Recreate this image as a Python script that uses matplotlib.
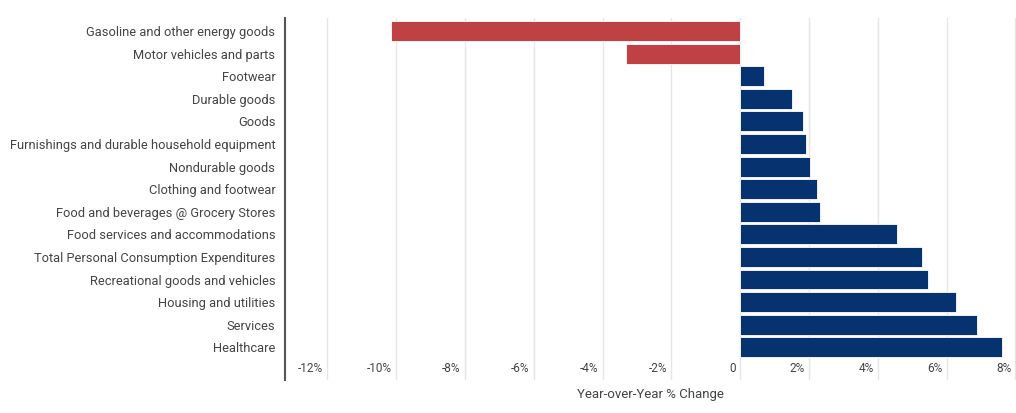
import matplotlib
matplotlib.use("Agg")
import matplotlib.pyplot as plt
import matplotlib.transforms as mtransforms

# categories, top to bottom
categories = [
    "Gasoline and other energy goods",
    "Motor vehicles and parts",
    "Footwear",
    "Durable goods",
    "Goods",
    "Furnishings and durable household equipment",
    "Nondurable goods",
    "Clothing and footwear",
    "Food and beverages @ Grocery Stores",
    "Food services and accommodations",
    "Total Personal Consumption Expenditures",
    "Recreational goods and vehicles",
    "Housing and utilities",
    "Services",
    "Healthcare",
]
yoy_change = [-10.15, -3.31, 0.70, 1.51, 1.83, 1.92, 2.03, 2.24, 2.33,
              4.56, 5.28, 5.47, 6.28, 6.89, 7.60]
tick_values = [-12, -10, -8, -6, -4, -2, 0, 2, 4, 6, 8]
tick_labels = ["-12%", "-10%", "-8%", "-6%", "-4%", "-2%", "0",
               "2%", "4%", "6%", "8%"]

RED = "#c04143"
BLUE = "#06336f"
TEXT = "#444444"

plt.rcParams["font.family"] = ["Roboto", "DejaVu Sans"]

fig = plt.figure(figsize=(10.16, 4.13), dpi=100)
ax = fig.add_axes([285 / 1016, 1 - 380 / 413, (1016 - 285) / 1016, (380 - 18) / 413])

colors = [RED if v < 0 else BLUE for v in yoy_change]
ypos = list(range(len(categories)))
ax.barh(ypos, yoy_change, height=0.88, color=colors, edgecolor="white",
        linewidth=0.6, zorder=3)

ax.set_yticks(ypos)
ax.set_yticklabels(categories, fontsize=9.3, color=TEXT)
ax.set_ylim(len(categories) - 1 + 1.45, -0.58)
ax.set_xlim(-13.23, 8.02)

ax.set_xticks(tick_values)
ax.set_xticklabels(tick_labels, fontsize=8.5, color=TEXT)
ax.tick_params(axis="x", length=0, pad=-13)
ax.tick_params(axis="y", length=0, pad=7)

# shift x tick labels to sit just left of their gridline
offset = mtransforms.ScaledTranslation(-3 / 72, 0, fig.dpi_scale_trans)
for lab in ax.get_xticklabels():
    lab.set_horizontalalignment("right")
    lab.set_transform(lab.get_transform() + offset)

ax.grid(axis="x", color="#e6e6e6", linewidth=1, zorder=0)
ax.set_axisbelow(True)

for side in ["top", "right", "bottom"]:
    ax.spines[side].set_visible(False)
ax.spines["left"].set_color("#555555")
ax.spines["left"].set_linewidth(1.5)

ax.set_xlabel("Year-over-Year % Change", fontsize=9.5, color=TEXT, labelpad=6)

fig.savefig("out.png", dpi=100)
